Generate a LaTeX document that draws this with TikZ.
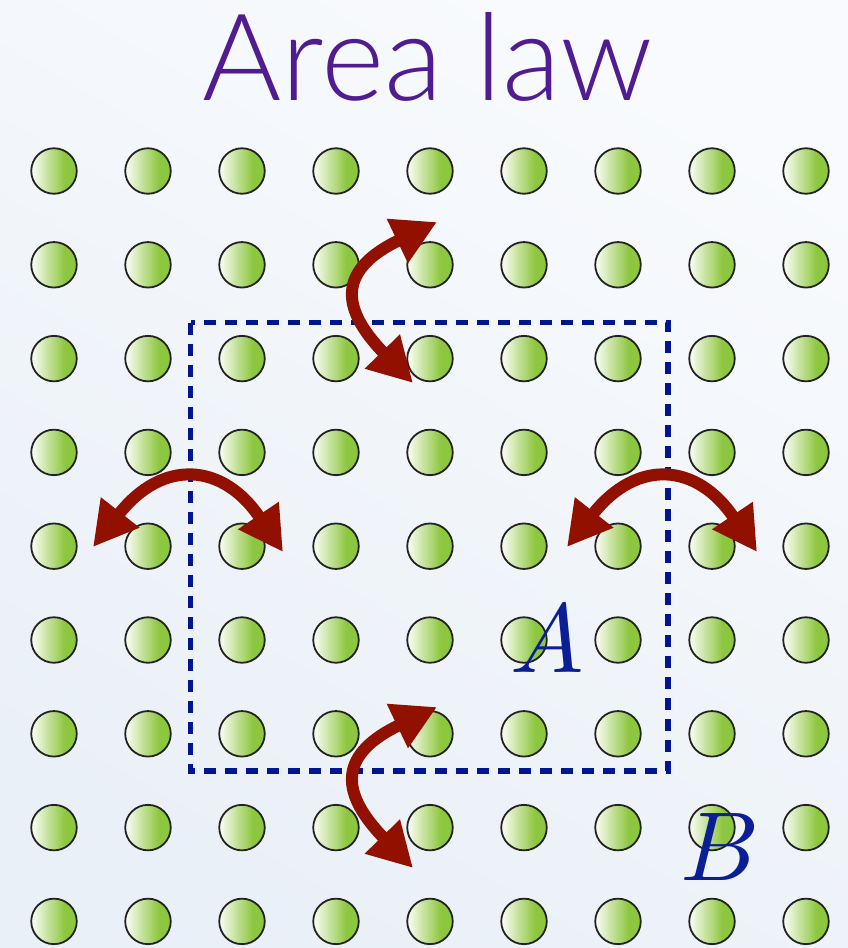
\documentclass[tikz,border=0pt]{standalone}
\usepackage{fontspec}
\usepackage{unicode-math}
\newfontfamily\titlefont{Lato Light}
\usetikzlibrary{arrows.meta}
\definecolor{bgA}{RGB}{248,250,253}
\definecolor{bgB}{RGB}{234,240,247}
\definecolor{ballgreen}{RGB}{141,198,63}
\definecolor{balllight}{RGB}{252,254,248}
\definecolor{ringgray}{RGB}{35,35,35}
\definecolor{titlepurple}{RGB}{82,28,145}
\definecolor{labelblue}{RGB}{12,30,150}
\definecolor{rectblue}{RGB}{0,22,145}
\definecolor{arrowred}{RGB}{145,16,0}
\pgfdeclarehorizontalshading{ballshade}{100bp}{color(0bp)=(balllight); color(25bp)=(balllight); color(62bp)=(ballgreen); color(100bp)=(ballgreen)}
\tikzset{
  site/.style={circle, minimum size=45.5pt, inner sep=0pt, draw=ringgray, line width=1.8pt, shading=ballshade},
  swaparrow/.style={draw=arrowred, line width=12pt, {Triangle[length=44pt,width=46pt]}-{Triangle[length=44pt,width=46pt]}},
  regionbox/.style={draw=rectblue, line width=5.5pt, dash pattern=on 12pt off 9pt},
  biglabel/.style={anchor=base west, inner sep=0pt, text=labelblue, font=\fontsize{98}{98}\selectfont}
}
\begin{document}
\begin{tikzpicture}[x=1pt,y=-1pt]
\useasboundingbox (0,0) rectangle (848,948);
\shade[left color=bgA, right color=bgB, shading angle=-30] (0,0) rectangle (848,948);
\node[font=\titlefont\fontsize{121}{121}\selectfont, text=titlepurple, anchor=base, inner sep=0pt] (title) at (428,100) {Area law};
\foreach \i in {0,...,8}{
  \foreach \j in {0,...,8}{
    \node[site] (s-\i-\j) at ({54+94*\i},{171+93.8*\j}) {};
  }
}
\draw[regionbox] (190.5,322.5) rectangle (668,771);
\coordinate (ta) at (437,222);
\coordinate (tb) at (413,383);
\coordinate (ba) at (437,707);
\coordinate (bb) at (413,868);
\coordinate (la) at (93,547);
\coordinate (lb) at (283,552);
\coordinate (ra) at (567,547);
\coordinate (rb) at (757,552);
\draw[swaparrow] (ta) .. controls (341,268) and (337,305) .. (tb);
\draw[swaparrow] (ba) .. controls (341,753) and (337,790) .. (bb);
\draw[swaparrow] (la) .. controls (163,458) and (223,463) .. (lb);
\draw[swaparrow] (ra) .. controls (637,458) and (697,463) .. (rb);
\node[biglabel] (labA) at (510,672) {$A$};
\node[biglabel] (labB) at (680,880) {$B$};
\end{tikzpicture}
\end{document}
